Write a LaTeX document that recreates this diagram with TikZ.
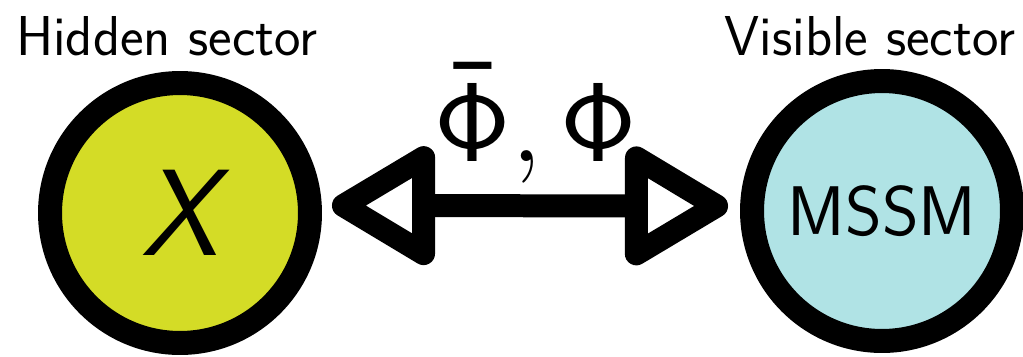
\RequirePackage{fix-cm}
\documentclass[tikz,border=0pt]{standalone}
\usetikzlibrary{arrows.meta}

\definecolor{hiddenfill}{HTML}{D4DC26}
\definecolor{visiblefill}{HTML}{B0E3E5}

\begin{document}
\begin{tikzpicture}[
						x=0.02cm, y=-0.02cm,
						sector/.style={circle, draw=black, line width=0.48cm, minimum size=5.2cm, inner sep=0pt},
						heading/.style={font=\sffamily\fontsize{32}{32}\selectfont},
						link/.style={line width=0.46cm, {Triangle[open,round,length=2.3cm,width=2.6cm]}-{Triangle[open,round,length=2.3cm,width=2.6cm]}},
						line cap=round,
						line join=round
						]
						
						\useasboundingbox (0,0) rectangle (1023,356);
						
						% Sectors
						\node[sector, fill=hiddenfill, font=\sffamily\itshape\fontsize{70}{70}\selectfont] (hidden) at (180,213) {X};
						\node[sector, fill=visiblefill, font=\sffamily\fontsize{40}{40}\selectfont] (visible) at (882,211) {MSSM};
						
						% Headings
						\node[heading] (hiddenlabel) at (167,36) {Hidden sector};
						\node[heading] (visiblelabel) at (870,36) {Visible sector};
						
						% Messengers
						\draw[link, shorten <=0.2cm, shorten >=0.24cm] ([yshift=0.15cm]hidden.east) -- ([yshift=0.1cm]visible.west);
						\node[font=\fontsize{64}{64}\selectfont] (messengers) at (536,124) {$\mathsf{\bar\Phi,\Phi}$};
						
					\end{tikzpicture}
\end{document}
